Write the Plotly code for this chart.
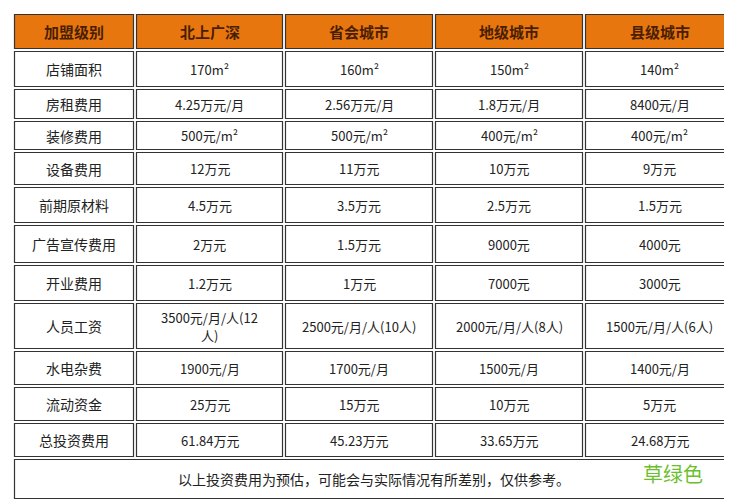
import plotly.graph_objects as go

header = ["加盟级别", "北上广深", "省会城市", "地级城市", "县级城市"]
items = ["店铺面积", "房租费用", "装修费用", "设备费用", "前期原材料", "广告宣传费用",
         "开业费用", "人员工资", "水电杂费", "流动资金", "总投资费用"]
tier1 = ["170m²", "4.25万元/月", "500元/m²", "12万元", "4.5万元", "2万元", "1.2万元",
         "3500元/月/人(12<br>人)", "1900元/月", "25万元", "61.84万元"]
tier2 = ["160m²", "2.56万元/月", "500元/m²", "11万元", "3.5万元", "1.5万元", "1万元",
         "2500元/月/人(10人)", "1700元/月", "15万元", "45.23万元"]
tier3 = ["150m²", "1.8万元/月", "400元/m²", "10万元", "2.5万元", "9000元", "7000元",
         "2000元/月/人(8人)", "1500元/月", "10万元", "33.65万元"]
tier4 = ["140m²", "8400元/月", "400元/m²", "9万元", "1.5万元", "4000元", "3000元",
         "1500元/月/人(6人)", "1400元/月", "5万元", "24.68万元"]
note = "以上投资费用为预估，可能会与实际情况有所差别，仅供参考。"

col_edges = [5, 127, 276, 426, 576, 727]
row_edges = [5, 42, 80, 112, 143, 178, 216, 256, 294, 342, 378, 414, 450, 492]

font = "Noto Sans CJK SC"
fig = go.Figure()
shapes = []
annotations = []
rows = [header] + [list(r) for r in zip(items, tier1, tier2, tier3, tier4)]

def cell(x0, x1, y0, y1, text, fill, color, size=13, bold=False):
    shapes.append(dict(type="rect", x0=x0 + 1.5, x1=x1 - 1.5, y0=y0 + 1.5, y1=y1 - 1.5,
                       line=dict(color="#333333", width=1.2), fillcolor=fill, layer="below"))
    lines = text.split("<br>")
    step = size + 5
    top = (y0 + y1) / 2 - step * (len(lines) - 1) / 2
    for i, ln in enumerate(lines):
        annotations.append(dict(x=(x0 + x1) / 2, y=top + i * step,
                                text=f"<b>{ln}</b>" if bold else ln,
                                showarrow=False, font=dict(family=font, size=size, color=color)))

for r, row in enumerate(rows):
    for c, text in enumerate(row):
        if r == 0:
            cell(col_edges[c], col_edges[c + 1], row_edges[r], row_edges[r + 1],
                 text, "#E8760F", "#4a1e00", size=15, bold=True)
        else:
            cell(col_edges[c], col_edges[c + 1], row_edges[r], row_edges[r + 1],
                 text, "white", "#222222", size=14 if c == 0 else 13)

cell(col_edges[0], col_edges[-1], row_edges[-2], row_edges[-1], note, "white", "#222222", size=14)
annotations.append(dict(x=665, y=465, text="草绿色", showarrow=False,
                        font=dict(family=font, size=20, color="#6cbf2c")))

fig.add_trace(go.Scatter(x=[0, 732], y=[0, 500], mode="markers", marker=dict(opacity=0),
                         hoverinfo="skip", showlegend=False))
fig.update_layout(width=732, height=500, margin=dict(l=0, r=0, t=0, b=0),
                  plot_bgcolor="white", paper_bgcolor="white",
                  xaxis=dict(range=[0, 732], visible=False, fixedrange=True),
                  yaxis=dict(range=[500, 0], visible=False, fixedrange=True),
                  shapes=shapes, annotations=annotations)
fig.write_html("out.html")
